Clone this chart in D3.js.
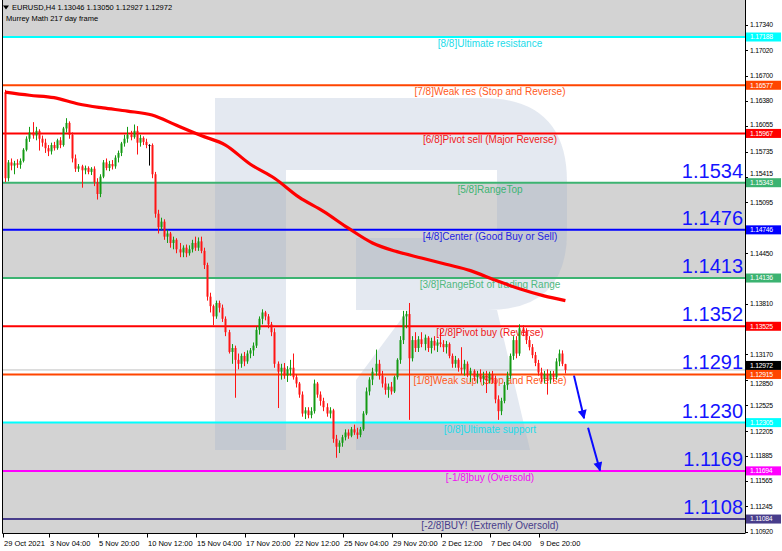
<!DOCTYPE html>
<html><head><meta charset="utf-8">
<script src="https://cdn.jsdelivr.net/npm/d3@7"></script>
<style>body{margin:0;background:#fff}svg{display:block}text{font-family:"Liberation Sans",Arial,sans-serif}</style>
</head><body>
<script>
// ---------------- DATA ----------------
const symbolLine = "EURUSD,H4  1.13046 1.13050 1.12927 1.12972";
const indicatorLine = "Murrey Math 217 day frame";

const levelPrices = [1.17188, 1.16577, 1.15967, 1.15343, 1.14746, 1.14136, 1.13525, 1.12915, 1.12305, 1.11694, 1.11084];
const levelNames = ["[8/8]Ultimate resistance", "[7/8]Weak res (Stop and Reverse)", "[6/8]Pivot sell (Major Reverse)",
  "[5/8]RangeTop", "[4/8]Center (Good Buy or Sell)", "[3/8]RangeBot of trading Range", "[2/8]Pivot buy (Reverse)",
  "[1/8]Weak sup (Stop and Reverse)", "[0/8]Ultimate support", "[-1/8]buy (Oversold)", "[-2/8]BUY! (Extremly Oversold)"];
const bigLevelIndex = [3, 4, 5, 6, 7, 8, 9, 10];
const bigLevelText = ["1.1534", "1.1476", "1.1413", "1.1352", "1.1291", "1.1230", "1.1169", "1.1108"];
const lastPrice = 1.12972;

const priceTicks = [1.17340, 1.17020, 1.16700, 1.16380, 1.16055, 1.15735, 1.15415, 1.15095, 1.14450,
  1.13810, 1.13170, 1.12850, 1.12525, 1.12205, 1.11885, 1.11565, 1.11245, 1.10920];

const timeLabels = ["29 Oct 2021", "3 Nov 04:00", "5 Nov 20:00", "10 Nov 12:00", "15 Nov 04:00", "17 Nov 20:00",
  "22 Nov 12:00", "25 Nov 04:00", "29 Nov 20:00", "2 Dec 12:00", "7 Dec 04:00", "9 Dec 20:00"];
const timeLabelBars = [0, 15, 31, 47, 63, 79, 95, 111, 127, 143, 159, 175];

const opens = [
  1.1649,1.1540,1.1560,1.1556,1.1559,1.1557,1.1562,1.1576,1.1590,1.1598,
  1.1594,1.1600,1.1590,1.1585,1.1578,1.1574,1.1582,1.1578,1.1588,1.1582,
  1.1603,1.1610,1.1595,1.1565,1.1552,1.1555,1.1550,1.1553,1.1548,1.1552,
  1.1535,1.1520,1.1542,1.1560,1.1553,1.1558,1.1555,1.1566,1.1572,1.1584,
  1.1590,1.1595,1.1592,1.1600,1.1585,1.1591,1.1586,1.1582,1.1582,1.1545,
  1.1495,1.1478,1.1485,1.1466,1.1470,1.1458,1.1462,1.1450,1.1446,1.1452,
  1.1445,1.1450,1.1458,1.1452,1.1460,1.1448,1.1430,1.1390,1.1378,1.1365,
  1.1382,1.1376,1.1362,1.1345,1.1320,1.1325,1.1310,1.1305,1.1315,1.1308,
  1.1318,1.1322,1.1328,1.1348,1.1362,1.1370,1.1365,1.1355,1.1345,1.1305,
  1.1295,1.1300,1.1290,1.1298,1.1300,1.1288,1.1280,1.1266,1.1242,1.1246,
  1.1240,1.1245,1.1280,1.1266,1.1258,1.1250,1.1242,1.1246,1.1210,1.1200,
  1.1205,1.1212,1.1218,1.1214,1.1222,1.1218,1.1215,1.1222,1.1242,1.1270,
  1.1285,1.1295,1.1305,1.1290,1.1280,1.1272,1.1276,1.1270,1.1288,1.1310,
  1.1335,1.1365,1.1368,1.1312,1.1335,1.1325,1.1336,1.1330,1.1338,1.1325,
  1.1334,1.1328,1.1332,1.1330,1.1326,1.1330,1.1315,1.1305,1.1310,1.1300,
  1.1298,1.1305,1.1292,1.1296,1.1288,1.1292,1.1286,1.1290,1.1284,1.1292,
  1.1285,1.1260,1.1245,1.1258,1.1278,1.1290,1.1315,1.1335,1.1318,1.1350,
  1.1345,1.1335,1.1326,1.1316,1.1306,1.1294,1.1286,1.1292,1.1285,1.1292,
  1.1288,1.1308,1.1318,1.13046];
const highs = [
  1.1652,1.1563,1.1565,1.1562,1.1564,1.1565,1.1578,1.1593,1.1605,1.1611,
  1.1605,1.1602,1.1594,1.1590,1.1582,1.1585,1.1586,1.1590,1.1592,1.1605,
  1.1616,1.1612,1.1598,1.1570,1.1558,1.1557,1.1556,1.1555,1.1554,1.1555,
  1.1540,1.1545,1.1563,1.1565,1.1562,1.1563,1.1569,1.1575,1.1586,1.1595,
  1.1605,1.1600,1.1608,1.1606,1.1595,1.1593,1.1590,1.1583,1.1584,1.1548,
  1.1500,1.1490,1.1488,1.1475,1.1472,1.1466,1.1464,1.1458,1.1455,1.1456,
  1.1455,1.1462,1.1466,1.1465,1.1466,1.1452,1.1433,1.1395,1.1380,1.1385,
  1.1385,1.1380,1.1365,1.1348,1.1330,1.1328,1.1318,1.1318,1.1320,1.1322,
  1.1325,1.1332,1.1352,1.1365,1.1374,1.1372,1.1368,1.1358,1.1350,1.1308,
  1.1305,1.1306,1.1302,1.1310,1.1318,1.1292,1.1282,1.1270,1.1250,1.1250,
  1.1250,1.1285,1.1282,1.1270,1.1262,1.1255,1.1250,1.1248,1.1215,1.1208,
  1.1215,1.1222,1.1222,1.1225,1.1228,1.1224,1.1225,1.1245,1.1275,1.1288,
  1.1300,1.1323,1.1310,1.1296,1.1288,1.1280,1.1282,1.1290,1.1312,1.1340,
  1.1372,1.1372,1.1382,1.1340,1.1345,1.1340,1.1345,1.1342,1.1340,1.1338,
  1.1340,1.1336,1.1348,1.1335,1.1334,1.1332,1.1318,1.1315,1.1312,1.1326,
  1.1310,1.1308,1.1300,1.1298,1.1296,1.1298,1.1295,1.1296,1.1295,1.1296,
  1.1290,1.1265,1.1262,1.1282,1.1295,1.1318,1.1340,1.1340,1.1355,1.1354,
  1.1350,1.1340,1.1330,1.1320,1.1310,1.1300,1.1296,1.1298,1.1296,1.1296,
  1.1312,1.1323,1.1322,1.13050];
const lows = [
  1.1535,1.1536,1.1550,1.1545,1.1553,1.1552,1.1560,1.1574,1.1586,1.1590,
  1.1588,1.1575,1.1580,1.1572,1.1568,1.1570,1.1575,1.1576,1.1578,1.1580,
  1.1598,1.1590,1.1560,1.1548,1.1548,1.1528,1.1545,1.1545,1.1544,1.1530,
  1.1513,1.1516,1.1540,1.1550,1.1549,1.1551,1.1552,1.1560,1.1568,1.1580,
  1.1585,1.1588,1.1590,1.1570,1.1580,1.1582,1.1578,1.1556,1.1540,1.1490,
  1.1470,1.1474,1.1462,1.1458,1.1452,1.1450,1.1445,1.1440,1.1440,1.1440,
  1.1442,1.1446,1.1448,1.1448,1.1445,1.1425,1.1385,1.1370,1.1354,1.1362,
  1.1370,1.1358,1.1340,1.1318,1.1305,1.1262,1.1298,1.1300,1.1302,1.1305,
  1.1312,1.1315,1.1325,1.1342,1.1355,1.1360,1.1350,1.1340,1.1300,1.1249,
  1.1285,1.1286,1.1282,1.1290,1.1285,1.1275,1.1262,1.1238,1.1235,1.1236,
  1.1236,1.1242,1.1262,1.1252,1.1245,1.1238,1.1236,1.1205,1.1186,1.1192,
  1.1200,1.1208,1.1210,1.1212,1.1215,1.1210,1.1212,1.1220,1.1240,1.1265,
  1.1278,1.1290,1.1285,1.1275,1.1266,1.1262,1.1266,1.1268,1.1285,1.1305,
  1.1330,1.1350,1.1234,1.1308,1.1320,1.1320,1.1326,1.1322,1.1320,1.1318,
  1.1322,1.1320,1.1326,1.1320,1.1318,1.1312,1.1300,1.1300,1.1295,1.1292,
  1.1290,1.1288,1.1282,1.1283,1.1280,1.1282,1.1278,1.1268,1.1280,1.1280,
  1.1255,1.1234,1.1240,1.1255,1.1272,1.1286,1.1310,1.1312,1.1315,1.1340,
  1.1330,1.1322,1.1312,1.1302,1.1290,1.1282,1.1280,1.1266,1.1280,1.1282,
  1.1285,1.1302,1.1302,1.12927];
const closes = [
  1.1540,1.1560,1.1556,1.1559,1.1557,1.1562,1.1576,1.1590,1.1598,1.1594,
  1.1600,1.1590,1.1585,1.1578,1.1574,1.1582,1.1578,1.1588,1.1582,1.1603,
  1.1610,1.1595,1.1565,1.1552,1.1555,1.1550,1.1553,1.1548,1.1552,1.1535,
  1.1520,1.1542,1.1560,1.1553,1.1558,1.1555,1.1566,1.1572,1.1584,1.1590,
  1.1595,1.1592,1.1600,1.1585,1.1591,1.1586,1.1582,1.1582,1.1545,1.1495,
  1.1478,1.1485,1.1466,1.1470,1.1458,1.1462,1.1450,1.1446,1.1452,1.1445,
  1.1450,1.1458,1.1452,1.1460,1.1448,1.1430,1.1390,1.1378,1.1365,1.1382,
  1.1376,1.1362,1.1345,1.1320,1.1325,1.1310,1.1305,1.1315,1.1308,1.1318,
  1.1322,1.1328,1.1348,1.1362,1.1370,1.1365,1.1355,1.1345,1.1305,1.1295,
  1.1300,1.1290,1.1298,1.1300,1.1288,1.1280,1.1266,1.1242,1.1246,1.1240,
  1.1245,1.1280,1.1266,1.1258,1.1250,1.1242,1.1246,1.1210,1.1200,1.1205,
  1.1212,1.1218,1.1214,1.1222,1.1218,1.1215,1.1222,1.1242,1.1270,1.1285,
  1.1295,1.1305,1.1290,1.1280,1.1272,1.1276,1.1270,1.1288,1.1310,1.1335,
  1.1365,1.1368,1.1312,1.1335,1.1325,1.1336,1.1330,1.1338,1.1325,1.1334,
  1.1328,1.1332,1.1330,1.1326,1.1330,1.1315,1.1305,1.1310,1.1300,1.1298,
  1.1305,1.1292,1.1296,1.1288,1.1292,1.1286,1.1290,1.1284,1.1292,1.1285,
  1.1260,1.1245,1.1258,1.1278,1.1290,1.1315,1.1335,1.1318,1.1350,1.1345,
  1.1335,1.1326,1.1316,1.1306,1.1294,1.1286,1.1292,1.1285,1.1292,1.1288,
  1.1308,1.1318,1.1305,1.12972];

const maBars = [0, 8, 16, 24, 32, 40, 48, 56, 64, 72, 80, 88, 96, 104, 112, 120, 128, 136, 144, 152, 160, 168, 176, 183];
const maValues = [1.1649, 1.1645, 1.1642, 1.1634, 1.1629, 1.1625, 1.1620, 1.1607, 1.1594, 1.1582, 1.1558, 1.1540,
  1.1516, 1.1498, 1.1477, 1.1458, 1.1447, 1.1439, 1.1431, 1.1423, 1.1411, 1.1400, 1.1391, 1.1385];

const arrowFromBar = [185.8, 190.4], arrowFromPrice = [1.1290, 1.1224];
const arrowToBar = [189.1, 194.3], arrowToPrice = [1.1236, 1.1170];

// ---------------- STYLE ----------------
const levelColors = ["#00ffff", "#ff4500", "#ff0000", "#3cb371", "#0000ff", "#3cb371", "#ff0000", "#ff4500", "#00ffff", "#ff00ff", "#483d8b"];
const levelTextColors = ["#22dbea", "#ff5a22", "#f01818", "#3cb371", "#2525e0", "#50b880", "#f01818", "#ff5a22", "#22dbea", "#f010f0", "#483d8b"];
const W = 782, H = 551;
const plotL = 2.5, plotR = 745, plotT = 0, plotB = 533.5;
const axisFont = 6.8;

const svg = d3.select("body").append("svg").attr("width", W).attr("height", H);
svg.append("rect").attr("width", W).attr("height", H).attr("fill", "#fff");

const x = d3.scaleLinear().domain([0, 183]).range([5, 565.4]);
const y = d3.scaleLinear().domain([1.10920, 1.17340]).range([532, 25]);

svg.append("defs").append("clipPath").attr("id", "plot")
  .append("rect").attr("x", plotL).attr("y", plotT).attr("width", plotR - plotL).attr("height", plotB - plotT);
const g = svg.append("g").attr("clip-path", "url(#plot)");

// shaded Murrey zones: above 8/8, between 5/8 and 3/8, below 0/8
const zones = [[null, 0], [3, 5], [8, null]];
g.selectAll("rect.zone").data(zones).join("rect")
  .attr("x", plotL).attr("width", plotR - plotL)
  .attr("y", d => d[0] === null ? plotT : y(levelPrices[d[0]]))
  .attr("height", d => (d[1] === null ? plotB : y(levelPrices[d[1]])) - (d[0] === null ? plotT : y(levelPrices[d[0]])))
  .attr("fill", "#d3d3d3");

// watermark logo (decoration)
const logo = g.append("g").attr("fill", "#9fb0cc").attr("opacity", 0.28);
logo.append("path").attr("d",
  "M215,98 H286 V450 H215 Z " +
  "M286,98 H482 Q567,98 567,182 V232 Q567,310 488,310 H356 V238 H497 V170 H286 Z " +
  "M408,310 H497 L530,450 H356 V380 Z");

// level lines
g.selectAll("line.level").data(levelPrices).join("line")
  .attr("x1", plotL).attr("x2", plotR)
  .attr("y1", d => y(d)).attr("y2", d => y(d))
  .attr("stroke", (d, i) => levelColors[i]).attr("stroke-width", 2);

// current price line
g.append("line").attr("x1", plotL).attr("x2", plotR).attr("y1", y(lastPrice)).attr("y2", y(lastPrice))
  .attr("stroke", "#c0c0c0").attr("stroke-width", 1);

// level labels
g.selectAll("text.lvl").data(levelNames).join("text")
  .attr("x", 490).attr("y", (d, i) => y(levelPrices[i]) + 10)
  .attr("text-anchor", "middle").attr("font-size", 10)
  .attr("fill", (d, i) => levelTextColors[i]).text(d => d);

// candles
const bars = d3.range(opens.length);
const cg = g.append("g");
const colorOf = i => closes[i] > opens[i] ? "#149a14" : (closes[i] < opens[i] ? "#ff1414" : "#000");
cg.selectAll("rect.wick").data(bars).join("rect")
  .attr("x", i => Math.round(x(i))).attr("width", 1)
  .attr("y", i => y(highs[i])).attr("height", i => Math.max(1, y(lows[i]) - y(highs[i])))
  .attr("fill", colorOf);
cg.selectAll("rect.body").data(bars).join("rect")
  .attr("x", i => Math.round(x(i)) - 0.5).attr("width", 2)
  .attr("y", i => y(Math.max(opens[i], closes[i])))
  .attr("height", i => Math.max(1, Math.abs(y(opens[i]) - y(closes[i]))))
  .attr("fill", colorOf);

// moving average
g.append("path").datum(maBars)
  .attr("d", d3.line().x(b => x(b)).y((b, k) => y(maValues[k])).curve(d3.curveMonotoneX))
  .attr("fill", "none").attr("stroke", "#ff0000").attr("stroke-width", 3.2).attr("stroke-linejoin", "round");

// big level numbers
g.selectAll("text.big").data(bigLevelText).join("text")
  .attr("x", 743).attr("y", (d, k) => y(levelPrices[bigLevelIndex[k]]) - 5)
  .attr("text-anchor", "end").attr("font-size", 20).attr("fill", "#1414ff").text(d => d);

// arrows
svg.append("defs").append("marker").attr("id", "ah").attr("viewBox", "0 0 10 10")
  .attr("refX", 9).attr("refY", 5).attr("markerWidth", 5).attr("markerHeight", 4.5).attr("orient", "auto")
  .attr("markerUnits", "strokeWidth")
  .append("path").attr("d", "M0,0 L10,5 L0,10 Z").attr("fill", "#0a0aff");
g.selectAll("line.arrow").data(arrowFromBar).join("line")
  .attr("x1", (d, k) => x(arrowFromBar[k])).attr("y1", (d, k) => y(arrowFromPrice[k]))
  .attr("x2", (d, k) => x(arrowToBar[k])).attr("y2", (d, k) => y(arrowToPrice[k]))
  .attr("stroke", "#0a0aff").attr("stroke-width", 2).attr("marker-end", "url(#ah)");

// frame
svg.append("line").attr("x1", plotL).attr("x2", plotL).attr("y1", plotT).attr("y2", plotB).attr("stroke", "#000");
svg.append("line").attr("x1", plotL).attr("x2", plotR).attr("y1", plotB).attr("y2", plotB).attr("stroke", "#000");
svg.append("line").attr("x1", plotR + 0.5).attr("x2", plotR + 0.5).attr("y1", plotT).attr("y2", plotB).attr("stroke", "#000");

// right price axis
const ax = svg.append("g");
// keep tick labels clear of the coloured level boxes
const labelShift = t => {
  let s = 0;
  levelPrices.forEach(p => {
    const d = y(t) - y(p);
    if (Math.abs(d) < 9) s = (d >= 0 ? 1 : -1) * (9 - Math.abs(d));
  });
  return s;
};
ax.selectAll("line.t").data(priceTicks).join("line")
  .attr("x1", plotR).attr("x2", plotR + 3).attr("y1", d => Math.round(y(d)) + 0.5).attr("y2", d => Math.round(y(d)) + 0.5)
  .attr("stroke", "#000");
ax.selectAll("text.t").data(priceTicks).join("text")
  .attr("x", plotR + 5).attr("y", d => y(d) + 2.4 + labelShift(d)).attr("font-size", axisFont).attr("letter-spacing", -0.25)
  .attr("fill", "#000").text(d => d3.format(".5f")(d));
function priceBox(p, col, dy) {
  ax.append("rect").attr("x", plotR + 1).attr("y", y(p) - 4.5 + dy).attr("width", W - plotR - 2).attr("height", 9).attr("fill", col);
  ax.append("text").attr("x", plotR + 5).attr("y", y(p) + 2.4 + dy).attr("font-size", axisFont).attr("letter-spacing", -0.25)
    .attr("fill", "#fff").text(d3.format(".5f")(p));
}
priceBox(lastPrice, "#000", -4.5);
levelPrices.forEach((p, i) => priceBox(p, levelColors[i], 0));

// bottom time axis
const tx = svg.append("g");
tx.selectAll("line").data(timeLabelBars).join("line")
  .attr("x1", b => Math.round(x(b)) - 1.5).attr("x2", b => Math.round(x(b)) - 1.5)
  .attr("y1", plotB).attr("y2", plotB + 4).attr("stroke", "#000");
tx.selectAll("text").data(timeLabels).join("text")
  .attr("x", (d, k) => Math.round(x(timeLabelBars[k])) - 1).attr("y", 545.5)
  .attr("font-size", 7.5).attr("fill", "#000").text(d => d);

// header
svg.append("path").attr("d", "M3,5.5 L9,5.5 L6,9.5 Z").attr("fill", "#000");
svg.append("text").attr("x", 12).attr("y", 9.8).attr("font-size", 7.5).attr("fill", "#000").text(symbolLine);
svg.append("text").attr("x", 6).attr("y", 20.5).attr("font-size", 7.5).attr("fill", "#000").text(indicatorLine);
</script>
</body></html>
